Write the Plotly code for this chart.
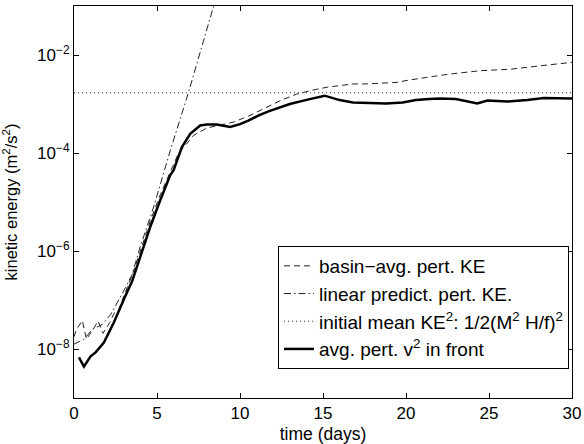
import plotly.graph_objects as go

# --- data (log10 values) ---
t_front = [0.3, 0.6, 1.0, 1.3, 1.8, 2.4, 3.0, 3.5, 4.0, 4.6, 5.2, 5.8, 6.0, 6.5, 7.0, 7.6, 8.0, 8.6,
           9.4, 10.0, 10.5, 11.2, 11.8, 13.0, 14.2, 15.1, 16.0, 16.8, 17.8, 18.8, 19.8, 20.6, 21.4,
           22.0, 23.0, 24.3, 24.9, 26.1, 27.3, 28.3, 30.0]
log_front = [-8.17, -8.36, -8.15, -8.07, -7.87, -7.46, -6.99, -6.62, -6.11, -5.50, -4.96, -4.45, -4.35,
             -3.88, -3.61, -3.44, -3.42, -3.42, -3.47, -3.41, -3.34, -3.22, -3.14, -3.00, -2.90, -2.83,
             -2.92, -2.97, -2.98, -2.99, -2.97, -2.92, -2.90, -2.89, -2.90, -2.99, -2.93, -2.95, -2.92,
             -2.88, -2.89]

t_basin = [0.0, 0.15, 0.5, 0.75, 1.15, 1.45, 1.75, 2.15, 2.4, 2.7, 3.0, 3.5, 4.0, 4.6, 5.2, 5.8, 6.3,
           6.7, 7.2, 8.0, 9.0, 9.6, 10.5, 11.8, 12.5, 13.4, 14.2, 15.2, 16.0, 16.8, 17.6, 18.8, 19.4,
           20.2, 21.2, 22.6, 24.5, 26.3, 28.1, 29.9, 30.0]
log_basin = [-7.75, -7.6, -7.42, -7.8, -7.6, -7.43, -7.68, -7.46, -7.28, -7.2, -6.92, -6.5, -6.0, -5.38,
             -4.85, -4.38, -4.0, -3.85, -3.64, -3.49, -3.42, -3.37, -3.25, -3.03, -2.92, -2.80, -2.73,
             -2.66, -2.62, -2.59, -2.59, -2.56, -2.56, -2.51, -2.46, -2.39, -2.32, -2.29, -2.22, -2.16,
             -2.15]

t_linear = [0.0, 0.6, 1.1, 1.7, 2.2, 2.7, 3.1, 3.5, 4.0, 4.8, 5.8, 6.9, 8.4, 8.5]
log_linear = [-7.9, -7.8, -7.6, -7.5, -7.3, -7.0, -6.75, -6.48, -5.9, -5.1, -3.95, -2.76, -1.04, -0.9]

t_mean = [0.0, 30.0]
mean_ke = [1.7e-3, 1.7e-3]

y_ticks = [1e-8, 1e-6, 1e-4, 1e-2]
y_tick_text = ["10<sup>−8</sup>", "10<sup>−6</sup>", "10<sup>−4</sup>", "10<sup>−2</sup>"]
x_ticks = [0, 5, 10, 15, 20, 25, 30]

to_val = lambda a: [10 ** v for v in a]

fig = go.Figure()
fig.add_trace(go.Scatter(x=t_basin, y=to_val(log_basin), mode="lines",
                         name="basin−avg. pert. KE",
                         line=dict(color="#222222", width=1, dash="6px,4px")))
fig.add_trace(go.Scatter(x=t_linear, y=to_val(log_linear), mode="lines",
                         name="linear predict. pert. KE.",
                         line=dict(color="#222222", width=1, dash="7px,3px,1.5px,3px")))
fig.add_trace(go.Scatter(x=t_mean, y=mean_ke, mode="lines",
                         name="initial mean KE<sup>2</sup>: 1/2(M<sup>2</sup> H/f)<sup>2</sup>",
                         line=dict(color="#333333", width=1, dash="1px,3px")))
fig.add_trace(go.Scatter(x=t_front, y=to_val(log_front), mode="lines",
                         name="avg. pert. v<sup>2</sup> in front",
                         line=dict(color="black", width=2.5)))

font = "Liberation Sans, Arial, Helvetica, sans-serif"
fig.update_layout(
    width=584, height=444,
    margin=dict(l=74, r=12, t=6, b=46),
    paper_bgcolor="white", plot_bgcolor="white",
    font=dict(family=font, size=16, color="black"),
    legend=dict(x=0.994, y=0.074, xanchor="right", yanchor="bottom",
                bgcolor="white", bordercolor="black", borderwidth=1,
                font=dict(size=19)),
)
fig.update_xaxes(range=[0, 30], tickvals=x_ticks, showline=True, linecolor="black", linewidth=1,
                 mirror="ticks", ticks="inside", ticklen=5, tickcolor="black", showgrid=False,
                 zeroline=False, automargin=False,
                 title=dict(text="time (days)", font=dict(size=17.5)),
                 tickfont=dict(size=17))
fig.update_yaxes(type="log", range=[-9, -1], tickvals=y_ticks, ticktext=y_tick_text,
                 showline=True, linecolor="black", linewidth=1, mirror="ticks", ticks="inside",
                 ticklen=5, tickcolor="black", showgrid=False, zeroline=False, automargin=False,
                 title=dict(text="kinetic energy (m<sup>2</sup>/s<sup>2</sup>)", font=dict(size=16.5)),
                 tickfont=dict(size=17))

fig.write_html("out.html", config={"displayModeBar": False},
               post_script="document.body.style.margin='0';document.body.style.padding='0';")
